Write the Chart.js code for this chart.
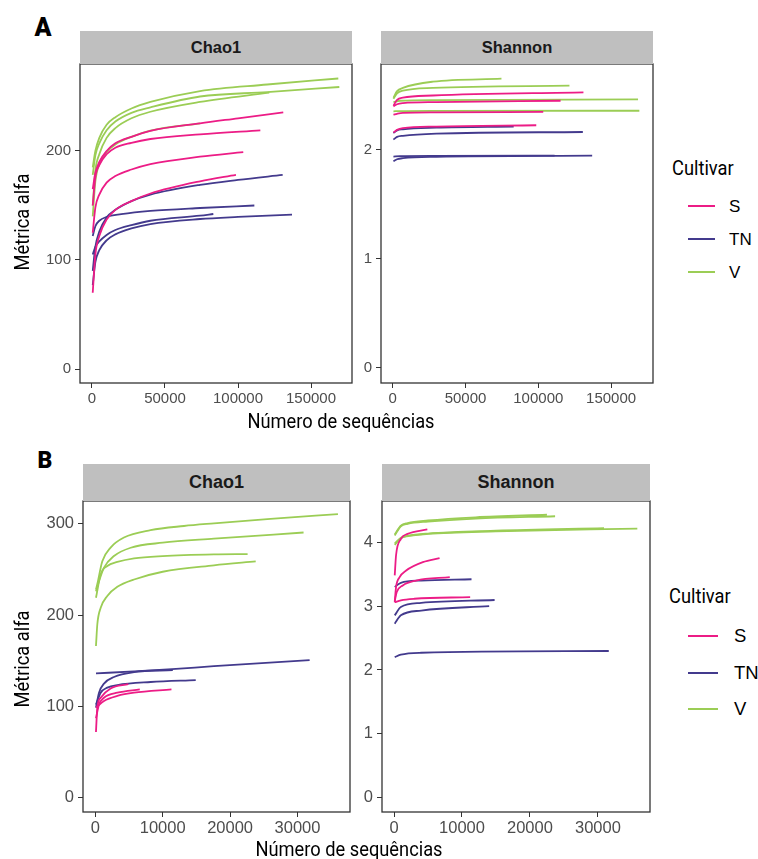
<!DOCTYPE html>
<html lang="pt">
<head>
<meta charset="UTF-8">
<title>Curvas de rarefação</title>
<script src="https://cdn.jsdelivr.net/npm/chart.js"></script>
<style>
    body { margin: 0; background: #fff; }
    #page { position: relative; width: 758px; height: 859px; overflow: hidden; background: #fff;
            font-family: "Liberation Sans", Arial, sans-serif; }
    #page canvas { position: absolute; }
    .lbl { position: absolute; white-space: nowrap; line-height: 1; }
    .c { transform: translate(-50%, -50%); }
    .l { transform: translate(0, -50%); }
    .letter { font-family: Roboto, sans-serif; font-weight: 900; color: #000; }
    .cond { font-family: Roboto, sans-serif; font-size: 21px; color: #000; }
    .strip { position: absolute; background: #bfbfbf; color: #1a1a1a; font-weight: bold;
             display: flex; align-items: center; justify-content: center; }
    .key { position: absolute; height: 2px; }
</style>
</head>
<body>
<div id="page"></div>
<script>
    // ----- data -----
    const cultivars = ['S', 'TN', 'V'];
    const xTicksA = [0, 50000, 100000, 150000];
    const xTicksB = [0, 10000, 20000, 30000];
    const yTicksChaoA = [0, 100, 200];
    const yTicksShanA = [0, 1, 2];
    const yTicksChaoB = [0, 100, 200, 300];
    const yTicksShanB = [0, 1, 2, 3, 4];

    // each curve: [numero de sequencias, metrica]
    const chaoA_S = [
        [[500, 2300, 5000, 10000, 16000, 27000, 40000, 74000, 100000, 131000], [165, 180, 190, 200, 207, 213, 218.5, 225.4, 230, 235.5]],
        [[500, 2300, 5000, 10000, 16000, 27000, 40000, 74000, 115300], [150, 176, 187, 197, 203, 207.5, 211, 215.3, 219]],
        [[500, 2300, 5000, 10000, 16000, 27000, 40000, 74000, 103600], [125, 148, 160, 171, 177, 183, 188, 194.8, 199]],
        [[500, 2300, 5000, 10000, 16000, 27000, 40000, 74000, 98600], [70, 105, 122, 137, 146, 154, 161, 172.2, 178]]
    ];
    const chaoA_TN = [
        [[500, 2300, 5000, 10000, 16000, 27000, 40000, 74000, 100000, 130600], [90, 112, 126, 139, 146, 154, 160, 169, 173.5, 178]],
        [[500, 2300, 5000, 10000, 20000, 40000, 74000, 111200], [122, 131, 136, 139.5, 142, 145, 147.7, 150]],
        [[500, 2300, 5000, 10000, 16000, 27000, 40000, 74000, 83100], [105, 112, 117, 123, 127.5, 132, 136, 140.7, 142.2]],
        [[500, 2300, 5000, 10000, 16000, 27000, 40000, 74000, 100000, 137000], [77, 98, 109, 118, 123.5, 129, 133, 137.6, 139.5, 141.6]]
    ];
    const chaoA_V = [
        [[500, 2300, 5000, 10000, 16000, 27000, 40000, 74000, 120000, 168700], [185, 200, 212, 224, 231, 239, 245, 255, 261, 266.5]],
        [[500, 2300, 5000, 10000, 16000, 27000, 40000, 74000, 120000, 169400], [178, 196, 207, 219, 227, 235, 240, 250, 254, 258.7]],
        [[500, 2300, 5000, 10000, 16000, 27000, 40000, 74000, 121400], [150, 182, 197, 212, 221, 230, 236, 245, 253.5]],
        [[500, 2300, 5000, 10000, 16000, 27000, 40000, 74000], [140, 172, 188, 199, 206, 213, 218.7, 225.4]]
    ];

    const shanA_S = [
        [[500, 3000, 7000, 27600, 131000], [2.406, 2.46, 2.48, 2.50, 2.529]],
        [[500, 3000, 7000, 30000, 115300], [2.40, 2.42, 2.43, 2.44, 2.452]],
        [[500, 3000, 7000, 30000, 103400], [2.324, 2.332, 2.34, 2.345, 2.349]],
        [[500, 3000, 7000, 30000, 98600], [2.16, 2.185, 2.2, 2.215, 2.227]]
    ];
    const shanA_TN = [
        [[500, 3000, 7000, 30000, 83100], [2.155, 2.18, 2.19, 2.205, 2.214]],
        [[500, 3000, 7000, 30000, 130600], [2.095, 2.12, 2.13, 2.15, 2.165]],
        [[500, 5000, 30000, 111200], [1.94, 1.944, 1.946, 1.948]],
        [[500, 3000, 7000, 30000, 137000], [1.896, 1.915, 1.925, 1.938, 1.948]]
    ];
    const shanA_V = [
        [[500, 3000, 7000, 27600, 74700], [2.48, 2.54, 2.57, 2.627, 2.654]],
        [[500, 3000, 7000, 27600, 121400], [2.47, 2.52, 2.544, 2.57, 2.59]],
        [[500, 5000, 30000, 168500], [2.44, 2.452, 2.458, 2.465]],
        [[500, 5000, 30000, 169400], [2.355, 2.357, 2.359, 2.36]]
    ];

    const chaoB_S = [
        [[100, 300, 800, 2270, 4900], [72, 99, 109.5, 119.7, 124.5]],
        [[100, 550, 1290, 3270, 6600], [87, 102, 109.5, 115, 118.6]],
        [[100, 1290, 3270, 5750, 11300], [98.6, 106, 111.5, 115, 118.6]]
    ];
    const chaoB_TN = [
        [[100, 5750, 11400, 17600, 31800], [136.1, 138.3, 140.8, 144, 150.7]],
        [[100, 550, 1290, 2770, 5750, 11500], [98.6, 115, 125, 132.2, 137.5, 139.8]],
        [[100, 800, 1780, 3270, 8220, 14900], [102, 115, 120.5, 123.4, 126.7, 128.8]]
    ];
    const chaoB_V = [
        [[100, 300, 1040, 2270, 4250, 8200, 13160, 17600, 26000, 36000], [228, 234, 259, 274, 285, 293, 297.6, 300.5, 305.5, 310.6]],
        [[100, 550, 1290, 2770, 5250, 10000, 17600, 30900], [226, 237, 252, 264.7, 273.8, 279.3, 283.7, 290.5]],
        [[100, 800, 1780, 3270, 5750, 10000, 17600, 22600], [219, 244.7, 253.8, 258.2, 262.2, 264.7, 266.5, 266.8]],
        [[100, 300, 800, 1780, 3270, 5750, 10000, 17600, 23800], [166.2, 190, 208, 221, 231, 239, 247.5, 254.5, 258.8]]
    ];

    const shanB_S = [
        [[100, 300, 1000, 2000, 4900], [3.48, 3.8, 4.05, 4.13, 4.2]],
        [[100, 300, 800, 1780, 4240, 6700], [3.06, 3.3, 3.45, 3.557, 3.688, 3.75]],
        [[100, 400, 1285, 3250, 8200], [3.08, 3.22, 3.323, 3.40, 3.453]],
        [[100, 1000, 3000, 11200], [3.06, 3.09, 3.115, 3.14]]
    ];
    const shanB_TN = [
        [[100, 1000, 4000, 11400], [3.3, 3.365, 3.40, 3.42]],
        [[100, 1000, 4000, 14800], [2.855, 2.985, 3.05, 3.095]],
        [[100, 1000, 4000, 14000], [2.725, 2.855, 2.93, 3.0]],
        [[100, 1000, 4000, 31600], [2.2, 2.24, 2.27, 2.297]]
    ];
    const shanB_V = [
        [[100, 1000, 2000, 5000, 12000, 23700], [4.105, 4.25, 4.287, 4.323, 4.37, 4.406]],
        [[100, 1000, 2000, 5000, 12000, 22500], [4.12, 4.26, 4.3, 4.34, 4.39, 4.43]],
        [[100, 1000, 2000, 5000, 15000, 35800], [3.96, 4.063, 4.094, 4.13, 4.17, 4.214]],
        [[100, 1000, 2000, 5000, 15000, 30900], [3.98, 4.07, 4.1, 4.135, 4.18, 4.219]]
    ];

    // ----- styles / layout -----
    const lineColors = { S: '#ec1c86', TN: '#433a8d', V: '#9bcd55' };
    Chart.defaults.font.family = '"Liberation Sans", Arial, sans-serif';

    const page = document.getElementById('page');
    const yW = 52, xH = 34, padTop = 22, padRight = 6;

    // panel border drawn over the lines, like ggplot
    const frame = {
        id: 'frame',
        afterDraw(chart) {
            const a = chart.chartArea, ctx = chart.ctx;
            ctx.save();
            ctx.strokeStyle = '#333333';
            ctx.lineWidth = 1.3;
            ctx.strokeRect(a.left, a.top, a.right - a.left, a.bottom - a.top);
            ctx.restore();
        }
    };

    function makePanel(p) {
        const [L, T, R, B] = p.plot;
        const cv = document.createElement('canvas');
        const left = L - yW, top = T - padTop;
        cv.width = R + padRight - left;
        cv.height = B + xH - top;
        cv.style.left = left + 'px';
        cv.style.top = top + 'px';
        page.appendChild(cv);

        const datasets = [];
        cultivars.forEach(cul => {
            p.groups[cul].forEach(curve => {
                datasets.push({
                    label: cul,
                    data: curve[0].map((x, i) => ({ x: x, y: curve[1][i] })),
                    borderColor: lineColors[cul],
                    borderWidth: 1.8,
                    pointRadius: 0,
                    fill: false,
                    cubicInterpolationMode: 'monotone'
                });
            });
        });

        const tickFont = { size: p.fs };
        new Chart(cv, {
            type: 'line',
            data: { datasets: datasets },
            options: {
                responsive: false,
                animation: false,
                layout: { padding: { top: padTop, right: padRight, left: 0, bottom: 0 } },
                plugins: { legend: { display: false }, tooltip: { enabled: false } },
                scales: {
                    x: {
                        type: 'linear', min: p.xr[0], max: p.xr[1],
                        afterBuildTicks: s => { s.ticks = p.xt.map(v => ({ value: v })); },
                        afterFit: s => { s.height = xH; },
                        ticks: { color: '#4d4d4d', font: tickFont, padding: 2, maxRotation: 0, autoSkip: false,
                                 callback: v => String(v) },
                        grid: { drawOnChartArea: false, drawTicks: true, tickLength: 5, color: '#333333' },
                        border: { display: false }
                    },
                    y: {
                        type: 'linear', min: p.yr[0], max: p.yr[1],
                        afterBuildTicks: s => { s.ticks = p.yt.map(v => ({ value: v })); },
                        afterFit: s => { s.width = yW; },
                        ticks: { color: '#4d4d4d', font: tickFont, padding: 4, autoSkip: false,
                                 callback: v => String(v) },
                        grid: { drawOnChartArea: false, drawTicks: true, tickLength: 5, color: '#333333' },
                        border: { display: false }
                    }
                }
            },
            plugins: [frame]
        });

        const st = document.createElement('div');
        st.className = 'strip';
        st.textContent = p.strip;
        st.style.cssText = `left:${L}px;top:${p.stripTop}px;width:${R - L}px;height:${T - p.stripTop}px;font-size:${p.sfs}px;`;
        page.appendChild(st);
    }

    function addText(txt, cls, x, y, extra) {
        const d = document.createElement('div');
        d.className = 'lbl ' + cls;
        d.textContent = txt;
        d.style.left = x + 'px';
        d.style.top = y + 'px';
        if (extra) d.style.cssText += extra;
        page.appendChild(d);
        return d;
    }

    function addLegend(x, titleY, rows, lineW, labelX, fs) {
        addText('Cultivar', 'cond l', x, titleY, 'transform:translate(0,-50%) scaleX(0.87);transform-origin:left center;');
        cultivars.forEach((cul, i) => {
            const k = document.createElement('div');
            k.className = 'key';
            k.style.cssText = `left:688px;top:${rows[i] - 1}px;width:${lineW}px;background:${lineColors[cul]};`;
            page.appendChild(k);
            addText(cul, 'l', labelX, rows[i], `font-size:${fs}px;color:#000;`);
        });
    }

    const panels = [
        { plot: [80, 64, 352, 383], xr: [-8219, 178082], yr: [-12.84, 279.8], xt: xTicksA, yt: yTicksChaoA,
          fs: 15, strip: 'Chao1', stripTop: 31, sfs: 16.5, groups: { S: chaoA_S, TN: chaoA_TN, V: chaoA_V } },
        { plot: [381, 64, 653, 383], xr: [-8036, 178777], yr: [-0.138, 2.789], xt: xTicksA, yt: yTicksShanA,
          fs: 15, strip: 'Shannon', stripTop: 31, sfs: 16.5, groups: { S: shanA_S, TN: shanA_TN, V: shanA_V } },
        { plot: [83, 501, 350, 812], xr: [-1825, 37790], yr: [-15.7, 325], xt: xTicksB, yt: yTicksChaoB,
          fs: 16.5, strip: 'Chao1', stripTop: 464, sfs: 18, groups: { S: chaoB_S, TN: chaoB_TN, V: chaoB_V } },
        { plot: [382, 501, 650, 812], xr: [-1772, 37666], yr: [-0.223, 4.645], xt: xTicksB, yt: yTicksShanB,
          fs: 16.5, strip: 'Shannon', stripTop: 464, sfs: 18, groups: { S: shanB_S, TN: shanB_TN, V: shanB_V } }
    ];
    panels.forEach(makePanel);

    // panel letters
    addText('A', 'letter c', 43, 27, 'font-size:25px;');
    addText('B', 'letter c', 45, 460, 'font-size:23px;');

    // axis titles
    addText('Número de sequências', 'cond c', 341, 421, 'transform:translate(-50%,-50%) scaleX(0.87);');
    addText('Número de sequências', 'cond c', 349, 849, 'transform:translate(-50%,-50%) scaleX(0.87);');
    addText('Métrica alfa', 'cond c', 22, 222, 'transform:translate(-50%,-50%) rotate(-90deg) scaleX(0.87);');
    addText('Métrica alfa', 'cond c', 22, 659, 'transform:translate(-50%,-50%) rotate(-90deg) scaleX(0.87);');

    // legends
    addLegend(672, 168, [206, 239, 272], 27, 729, 17);
    addLegend(669, 596, [636, 673, 709], 30, 734, 18.5);
</script>
</body>
</html>
